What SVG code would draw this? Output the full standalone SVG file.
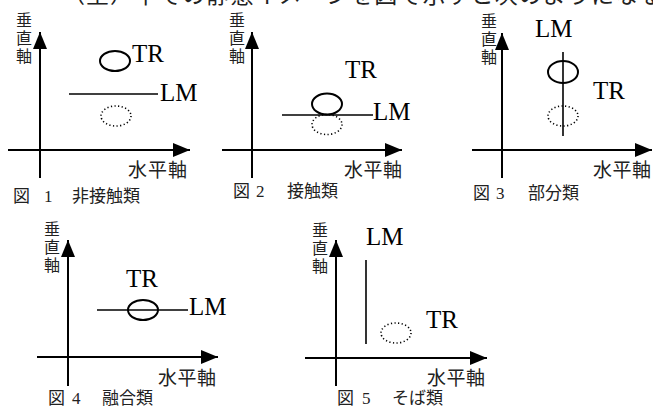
<svg xmlns="http://www.w3.org/2000/svg" width="653" height="407" viewBox="0 0 653 407">
<style>
.ax{stroke:#000;stroke-width:2;fill:none;marker-end:url(#ah)}
.lm{stroke:#000;stroke-width:1.6;fill:none}
.tr{fill:none;stroke:#000;stroke-width:2}
.dot{fill:none;stroke:#000;stroke-width:1.6;stroke-dasharray:1.2 2.4}
.en{font-family:"Liberation Serif",serif;font-size:25px;fill:#000}
.jp{font-family:"Noto Sans CJK JP",sans-serif;font-size:16px;fill:#222;writing-mode:vertical-rl;letter-spacing:2px}
.hx{font-family:"Noto Sans CJK JP",sans-serif;font-size:19px;fill:#222}
.cap{font-family:"Liberation Serif","Noto Sans CJK JP",serif;font-size:17px;fill:#222}
.top{font-family:"Noto Sans CJK JP",sans-serif;font-size:23px;fill:#222}
</style>
<defs>
<marker id="ah" markerWidth="17" markerHeight="14" refX="17" refY="7" orient="auto" markerUnits="userSpaceOnUse">
<path d="M0,0 L17,7 L0,14 Z" fill="#000"/>
</marker>
</defs>
<rect width="653" height="407" fill="#fff"/>
<text class="top" x="62" y="3" textLength="600" lengthAdjust="spacing">（空）中での静態イメージを図で示すと次のようになる</text>

<g id="fig1">
<line class="ax" x1="40" y1="178" x2="40" y2="32"/>
<line class="ax" x1="8" y1="150" x2="190" y2="150"/>
<text class="jp" x="24" y="12">垂直軸</text>
<text class="hx" x="128" y="177" letter-spacing="1">水平軸</text>
<text class="cap" y="202"><tspan x="13">図</tspan><tspan x="44">1</tspan><tspan x="72">非接触類</tspan></text>
<ellipse class="tr" cx="115" cy="61" rx="15" ry="10"/>
<text class="en" x="132" y="62">TR</text>
<line class="lm" x1="69" y1="94" x2="158" y2="94"/>
<text class="en" x="160" y="101">LM</text>
<ellipse class="dot" cx="116" cy="116" rx="15" ry="10"/>
</g>

<g id="fig2">
<line class="ax" x1="252" y1="178" x2="252" y2="32"/>
<line class="ax" x1="222" y1="150" x2="402" y2="150"/>
<text class="jp" x="237" y="12">垂直軸</text>
<text class="hx" x="344" y="177" letter-spacing="0.5">水平軸</text>
<text class="cap" y="197"><tspan x="233">図</tspan><tspan x="256">2</tspan><tspan x="287">接触類</tspan></text>
<text class="en" x="345" y="78">TR</text>
<ellipse class="tr" cx="327" cy="104" rx="15" ry="10.5"/>
<line class="lm" x1="282" y1="115" x2="373" y2="115"/>
<text class="en" x="373" y="120">LM</text>
<ellipse class="dot" cx="327" cy="124.5" rx="15" ry="10"/>
</g>

<g id="fig3">
<line class="ax" x1="502" y1="178" x2="502" y2="33"/>
<line class="ax" x1="472" y1="150" x2="652" y2="150"/>
<text class="jp" x="489" y="13">垂直軸</text>
<text class="hx" x="593" y="177" letter-spacing="0.5">水平軸</text>
<text class="cap" y="199"><tspan x="473">図</tspan><tspan x="496">3</tspan><tspan x="528">部分類</tspan></text>
<text class="en" x="535" y="37">LM</text>
<line class="lm" x1="563" y1="52" x2="563" y2="136"/>
<ellipse class="tr" cx="563" cy="72" rx="15" ry="11"/>
<text class="en" x="593" y="99">TR</text>
<ellipse class="dot" cx="563" cy="116" rx="15" ry="10"/>
</g>

<g id="fig4">
<line class="ax" x1="68" y1="386" x2="68" y2="240"/>
<line class="ax" x1="37" y1="357" x2="218" y2="357"/>
<text class="jp" x="52" y="221">垂直軸</text>
<text class="hx" x="158" y="385" letter-spacing="0.5">水平軸</text>
<text class="cap" y="404"><tspan x="48">図</tspan><tspan x="72">4</tspan><tspan x="102">融合類</tspan></text>
<text class="en" x="126" y="287">TR</text>
<line class="lm" x1="97" y1="310" x2="188" y2="310"/>
<ellipse class="tr" cx="143" cy="310" rx="15" ry="10"/>
<text class="en" x="189" y="315">LM</text>
</g>

<g id="fig5">
<line class="ax" x1="336" y1="386" x2="336" y2="240"/>
<line class="ax" x1="305" y1="358" x2="487" y2="358"/>
<text class="jp" x="320" y="222">垂直軸</text>
<text class="hx" x="427" y="385" letter-spacing="0.5">水平軸</text>
<text class="cap" y="404"><tspan x="337">図</tspan><tspan x="362">5</tspan><tspan x="392">そば類</tspan></text>
<text class="en" x="366" y="245">LM</text>
<line class="lm" x1="366" y1="260" x2="366" y2="344"/>
<text class="en" x="426" y="328">TR</text>
<ellipse class="dot" cx="396" cy="333" rx="15" ry="10"/>
</g>
</svg>
